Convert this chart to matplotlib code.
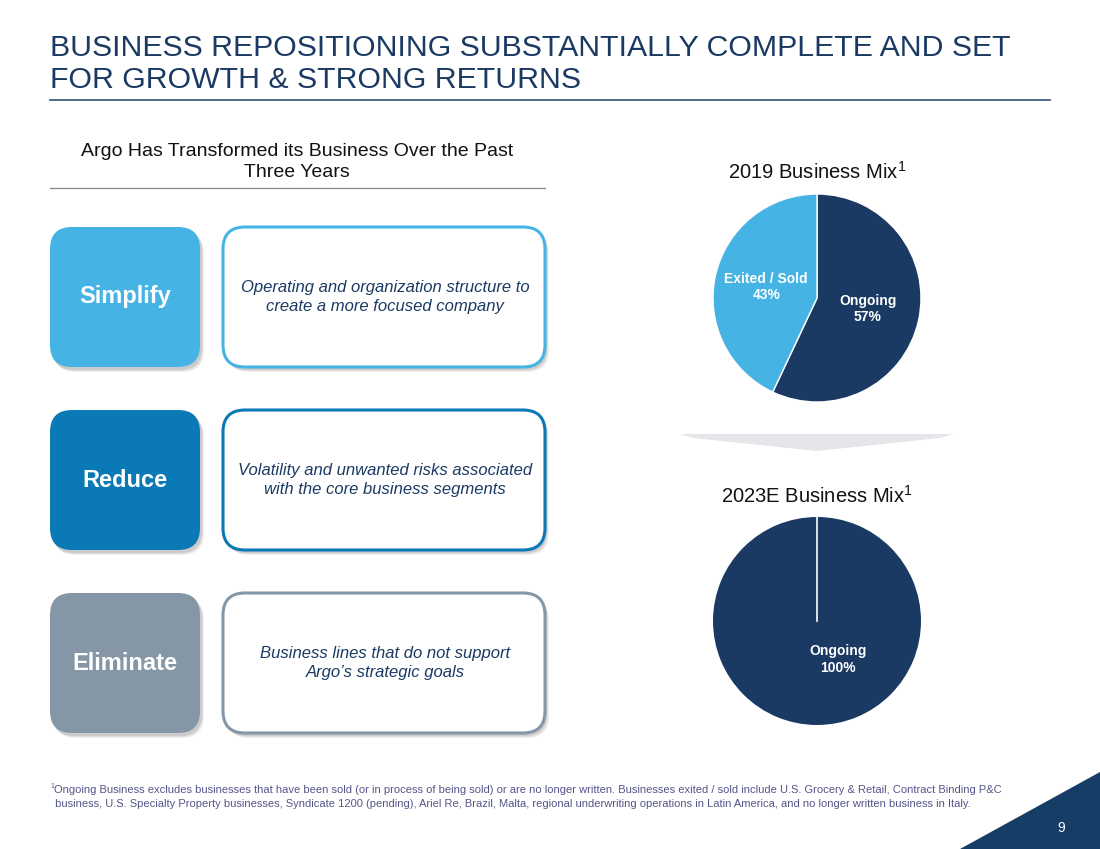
#!usr/bin/env python3

import matplotlib
matplotlib.use("Agg")
import matplotlib.pyplot as plt
from matplotlib.patches import FancyBboxPatch, Polygon

plt.rcParams['font.family'] = ['Liberation Sans', 'DejaVu Sans']
plt.rcParams['mathtext.fontset'] = 'custom'
plt.rcParams['mathtext.rm'] = 'Liberation Sans'

NAVY = "#1b3a63"

# Left panel content
actions = ["Simplify", "Reduce", "Eliminate"]
descriptions = ["Operating and organization structure to\ncreate a more focused company",
                "Volatility and unwanted risks associated\nwith the core business segments",
                "Business lines that do not support\nArgo\u2019s strategic goals"]
action_colors = ["#45b3e3", "#0a79b5", "#8597a7"]

# Pie data
mix_2019_labels = ["Ongoing", "Exited / Sold"]
mix_2019_values = [57, 43]
mix_2023_labels = ["Ongoing"]
mix_2023_values = [100]
mix_colors = [NAVY, "#45b3e3"]

W, H = 1100, 849
fig = plt.figure(figsize=(11, 8.49), dpi=100)
ax = fig.add_axes([0, 0, 1, 1])
ax.set_xlim(0, W)
ax.set_ylim(H, 0)
ax.axis("off")

# Title
ax.text(50, 48, "BUSINESS REPOSITIONING SUBSTANTIALLY COMPLETE AND SET", fontsize=21.8,
        color=NAVY, va="center", ha="left")
ax.text(50, 80, "FOR GROWTH & STRONG RETURNS", fontsize=21.8, color=NAVY, va="center", ha="left")
ax.plot([50, 1050], [100, 100], color="#2f4f75", lw=1.2)

# Sub heading
ax.text(297, 162, "Argo Has Transformed its Business Over the Past\nThree Years", fontsize=14,
        ha="center", va="center", linespacing=1.3, color="#111111")
ax.plot([50, 545], [188, 188], color="#888888", lw=0.9)

# Boxes
tops = [227, 410, 593]
bh = 140
for i, (name, desc, col) in enumerate(zip(actions, descriptions, action_colors)):
    y = tops[i]
    # shadows
    for x0, w in [(50, 150), (223, 322)]:
        for k, a in [(5, 0.12), (4, 0.15), (3, 0.2)]:
            sh = FancyBboxPatch((x0 + k - 1, y + k), w, bh, boxstyle="round,pad=0,rounding_size=22",
                                fc="#808080", ec="none", alpha=a, zorder=1)
            ax.add_patch(sh)
    b = FancyBboxPatch((50, y), 150, bh, boxstyle="round,pad=0,rounding_size=22",
                       fc=col, ec="none", zorder=2)
    ax.add_patch(b)
    d = FancyBboxPatch((223, y), 322, bh, boxstyle="round,pad=0,rounding_size=22",
                       fc="white", ec=col, lw=2.2, zorder=2)
    ax.add_patch(d)
    ax.text(125, y + 70, name, fontsize=17, fontweight="bold", color="white",
            ha="center", va="center", zorder=3)
    ax.text(385, y + 70, desc, fontsize=12, style="italic", color=NAVY,
            ha="center", va="center", linespacing=1.35, zorder=3)

# Chevron between pies
ax.add_patch(Polygon([(680, 434), (953, 434), (940, 438), (817, 451), (693, 438)],
                     closed=True, fc="#e4e6e9", ec="none"))

# Pie titles
ax.text(817, 172, "2019 Business Mix$^{1}$", fontsize=14.5, ha="center", va="center", color="#111111")
ax.text(817, 496, "2023E Business Mix$^{1}$", fontsize=14.5, ha="center", va="center", color="#111111")

R = 104


def pie_axes(cx, cy):
    return fig.add_axes([(cx - R) / W, (H - cy - R) / H, 2 * R / W, 2 * R / H])


# 2019 pie
pa = pie_axes(817, 298)
lbls = ["{}\n{}%".format(l, v) for l, v in zip(mix_2019_labels, mix_2019_values)]
wedges, texts = pa.pie(mix_2019_values, colors=mix_colors, startangle=90, counterclock=False,
                       labels=lbls, labeldistance=0.5,
                       wedgeprops=dict(edgecolor="white", linewidth=1))
for t in texts:
    t.set_color("white")
    t.set_fontweight("bold")
    t.set_fontsize(10)
    t.set_ha("center")
    t.set_va("center")
pa.set_xlim(-1, 1)
pa.set_ylim(-1, 1)

# 2023E pie
pb = pie_axes(817, 621)
wedges2, texts2 = pb.pie(mix_2023_values, colors=mix_colors[:1], startangle=90, counterclock=False)
pb.plot([0, 0], [0, 1], color="white", lw=1.2)
pb.text(0.2, -0.37, "{}\n{}%".format(mix_2023_labels[0], mix_2023_values[0]), color="white",
        fontweight="bold", fontsize=10, ha="center", va="center")
pb.set_xlim(-1, 1)
pb.set_ylim(-1, 1)

# Footnote
foot1 = ("Ongoing Business excludes businesses that have been sold (or in process of being sold) or are no longer written. "
         "Businesses exited / sold include U.S. Grocery & Retail, Contract Binding P&C")
foot2 = (" business, U.S. Specialty Property businesses, Syndicate 1200 (pending), Ariel Re, Brazil, Malta, "
         "regional underwriting operations in Latin America, and no longer written business in Italy.")
ax.text(50, 787, "1", fontsize=5, color="#55558a", ha="left", va="center")
ax.text(54, 790, foot1, fontsize=8, color="#55558a", ha="left", va="center")
ax.text(52, 804, foot2, fontsize=8, color="#55558a", ha="left", va="center")

# Corner triangle and page number
ax.add_patch(Polygon([(960, 849), (1100, 849), (1100, 772)], closed=True, fc="#163d66", ec="none"))
ax.text(1061, 828, "9", color="white", fontsize=10, ha="center", va="center")

fig.savefig("out.png", dpi=100)
